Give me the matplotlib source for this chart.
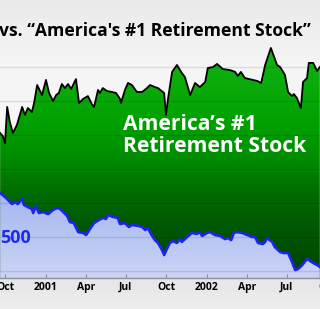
import numpy as np
import pandas as pd
import matplotlib
matplotlib.use("Agg")
import matplotlib.pyplot as plt
import matplotlib.dates as mdates
from matplotlib.colors import LinearSegmentedColormap

# days from 2001-01-01, values on an index scale (gridlines every 20)
green_days = [-104, -98, -93, -88, -82, -75, -66, -54, -48, -41,
              -32, -27, -20, -9, 0, 7, 16, 23, 29, 36,
              43, 50, 57, 68, 75, 84, 95, 104, 109, 118,
              122, 129, 138, 150, 159, 168, 170, 179, 186, 195,
              206, 218, 229, 236, 247, 254, 268, 272, 277, 286,
              297, 308, 315, 327, 338, 349, 361, 367, 379, 388,
              401, 417, 429, 435, 442, 451, 479, 488, 497, 510,
              524, 531, 542, 549, 558, 562, 569, 578, 583, 592,
              596, 606, 615, 621]
green_vals = [121.2, 119.4, 115.3, 136.5, 127.6, 121.2, 125.9, 136.5, 131.8, 135.9,
              133.5, 138.8, 149.4, 143.5, 152.4, 144.7, 140.0, 143.5, 144.7, 150.0,
              147.6, 150.0, 147.1, 152.9, 138.8, 141.2, 142.9, 138.2, 136.5, 146.5,
              144.7, 147.6, 145.9, 145.3, 144.7, 141.2, 138.8, 146.5, 150.6, 149.4,
              145.3, 145.3, 147.6, 149.4, 148.2, 147.6, 144.7, 131.8, 141.8, 157.1,
              161.2, 156.5, 154.1, 143.5, 150.6, 148.2, 151.2, 159.4, 160.0, 161.8,
              158.8, 158.2, 157.1, 154.7, 157.1, 153.5, 151.8, 150.6, 161.2, 171.2,
              161.2, 160.0, 155.3, 145.3, 142.9, 144.1, 141.8, 135.9, 151.2, 153.5,
              162.4, 162.4, 157.6, 160.0]

sp_days = [-104, -93, -86, -77, -70, -64, -54, -50, -41, -32,
           -29, -23, -16, -7, 5, 16, 25, 32, 39, 48,
           54, 63, 73, 84, 91, 98, 109, 120, 129, 136,
           141, 152, 163, 168, 179, 188, 195, 209, 218, 225,
           231, 238, 247, 254, 263, 268, 274, 281, 288, 297,
           304, 308, 320, 331, 342, 349, 354, 365, 372, 383,
           395, 406, 413, 420, 426, 433, 445, 456, 467, 474,
           481, 492, 497, 501, 513, 519, 531, 538, 549, 558,
           565, 572, 581, 592, 599, 606, 615, 621]
sp_vals = [85.9, 83.5, 81.8, 79.4, 80.6, 79.4, 82.4, 78.8, 77.6, 76.5,
           74.1, 78.2, 74.1, 74.7, 73.5, 75.9, 77.1, 76.5, 74.7, 72.4,
           68.8, 68.2, 62.9, 62.4, 61.2, 64.1, 68.2, 70.0, 71.2, 70.6,
           72.9, 71.8, 71.2, 67.6, 68.2, 65.9, 67.1, 66.5, 65.9, 64.1,
           65.3, 61.8, 58.2, 56.5, 52.4, 49.4, 52.9, 56.5, 57.6, 56.5,
           58.8, 57.1, 60.0, 62.4, 61.8, 62.9, 60.6, 62.4, 62.9, 61.2,
           60.6, 58.8, 59.4, 58.2, 62.4, 62.9, 62.4, 61.2, 60.0, 60.0,
           56.5, 55.9, 57.1, 59.4, 57.1, 54.1, 51.2, 50.6, 50.6, 45.3,
           40.6, 41.2, 43.5, 47.1, 45.9, 44.7, 43.5, 42.4]

tick_dates = ["2000-10-01", "2001-01-01", "2001-04-01", "2001-07-01",
              "2001-10-01", "2002-01-01", "2002-04-01", "2002-07-01"]
tick_labels = ["Oct", "2001", "Apr", "Jul", "Oct", "2002", "Apr", "Jul"]

FONT = "Open Sans"

base = pd.Timestamp("2001-01-01")
g_x = mdates.date2num(base + pd.to_timedelta(green_days, unit="D"))
s_x = mdates.date2num(base + pd.to_timedelta(sp_days, unit="D"))

x0 = mdates.date2num(base - pd.Timedelta(days=104.3))
x1 = mdates.date2num(base + pd.Timedelta(days=621.4))
y0, y1 = 35.9, 199.4

fig = plt.figure(figsize=(3.2, 3.09), dpi=100)

# background gradient
bg = fig.add_axes([0, 0, 1, 1])
bg.axis("off")
bg_cmap = LinearSegmentedColormap.from_list(
    "bg", [(0, "#eaeaea"), (0.2, "#f5f5f5"), (0.55, "#f8f8f8"),
           (0.93, "#e7e7e7"), (1, "#efefef")])
bg.imshow(np.linspace(0, 1, 200)[:, None], cmap=bg_cmap, aspect="auto",
          extent=[0, 1, 0, 1], origin="upper")
bg.set_xlim(0, 1)
bg.set_ylim(0, 1)

ax = fig.add_axes([0, 31 / 309, 1, 278 / 309])
ax.set_facecolor("none")

# green area with vertical gradient
green_cmap = LinearSegmentedColormap.from_list(
    "g", [(0, "#004600"), (0.2, "#005800"), (0.35, "#006c00"),
          (0.5, "#008c00"), (0.65, "#00a000"), (1, "#12b412")])
grad = np.linspace(0, 1, 256)[:, None]
gpoly = ax.fill_between(g_x, green_vals, y0, facecolor="none", edgecolor="none")
gim = ax.imshow(grad, cmap=green_cmap, aspect="auto", origin="lower",
                extent=[x0, x1, 40.6, 171.2], zorder=1)
gim.set_clip_path(gpoly.get_paths()[0], transform=ax.transData)
gim2 = ax.imshow(grad[:1], cmap=green_cmap, aspect="auto", origin="lower",
                 extent=[x0, x1, y0, 40.6], zorder=1)
gim2.set_clip_path(gpoly.get_paths()[0], transform=ax.transData)
ax.plot(g_x, green_vals, color="black", lw=1.3, zorder=3)

# S&P area
blue_cmap = LinearSegmentedColormap.from_list("b", ["#cad4f5", "#a6b6ef"])
spoly = ax.fill_between(s_x, sp_vals, y0, facecolor="none", edgecolor="none")
bim = ax.imshow(grad, cmap=blue_cmap, aspect="auto", origin="lower",
                extent=[x0, x1, y0, 86], zorder=1.5)
bim.set_clip_path(spoly.get_paths()[0], transform=ax.transData)
ax.plot(s_x, sp_vals, color="#1e24f0", lw=1.9, zorder=3)

ax.set_xlim(x0, x1)
ax.set_ylim(y0, y1)

ax.set_yticks([40, 60, 80, 100, 120, 140, 160])
ax.yaxis.set_tick_params(length=0, labelleft=False)
ax.grid(axis="y", color="black", alpha=0.1, lw=1)
ax.set_axisbelow(False)

ax.set_xticks(mdates.date2num(pd.to_datetime(tick_dates)))
ax.set_xticklabels(tick_labels, family=FONT, weight="bold", fontsize=7.5)
ax.tick_params(axis="x", direction="in", length=3, color="#8a8f99", pad=3)
for s in ["top", "left", "right"]:
    ax.spines[s].set_visible(False)
ax.spines["bottom"].set_color("#8a8f99")
ax.spines["bottom"].set_linewidth(1)

ax.annotate("Oct", xy=(mdates.date2num(pd.Timestamp("2002-10-01")), 0),
            xycoords=ax.get_xaxis_transform(), xytext=(0, -3),
            textcoords="offset points", ha="center", va="top",
            family=FONT, weight="bold", fontsize=7.5, annotation_clip=False)

fig.text(-1 / 320, 1 - 36 / 309, "vs. \u201cAmerica's #1 Retirement Stock\u201d",
         family=FONT, weight="bold", fontsize=12.6, va="baseline", ha="left")
fig.text(123 / 320, 1 - 130 / 309, "America\u2019s #1", color="white",
         family=FONT, weight="bold", fontsize=15.2, va="baseline", ha="left")
fig.text(123 / 320, 1 - 152 / 309, "Retirement Stock", color="white",
         family=FONT, weight="bold", fontsize=15.2, va="baseline", ha="left")
fig.text(0, 1 - 243 / 309, "500", color="#1f2ee6",
         family=FONT, weight="bold", fontsize=13, va="baseline", ha="left")

fig.savefig("out.png", dpi=100)
